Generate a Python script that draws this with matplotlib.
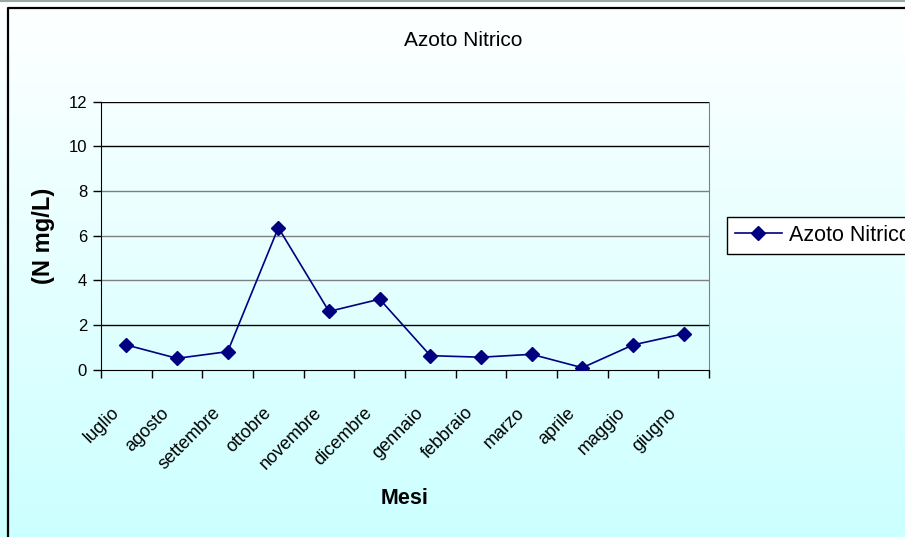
import numpy as np
import matplotlib.pyplot as plt
import matplotlib.transforms as mtransforms
from matplotlib.colors import LinearSegmentedColormap
from matplotlib.ticker import FixedLocator, NullFormatter

plt.rcParams['font.family'] = ['Liberation Sans', 'DejaVu Sans']

mesi = ['luglio', 'agosto', 'settembre', 'ottobre', 'novembre', 'dicembre',
        'gennaio', 'febbraio', 'marzo', 'aprile', 'maggio', 'giugno']
azoto_nitrico = [1.1, 0.5, 0.8, 6.35, 2.6, 3.15, 0.62, 0.55, 0.68, 0.08, 1.1, 1.6]
y_ticks = [0, 2, 4, 6, 8, 10, 12]

W, H = 905, 537
fig = plt.figure(figsize=(W / 100, H / 100), dpi=100)

# sfondo sfumato bianco -> azzurro
bg = fig.add_axes([0, 0, 1, 1], zorder=0)
cmap = LinearSegmentedColormap.from_list('sfondo', ['#ffffff', '#ccffff'])
grad = np.linspace(0, 1, 256).reshape(-1, 1)
bg.imshow(grad, aspect='auto', cmap=cmap, extent=[0, 1, 0, 1], origin='upper')
bg.set_xlim(0, 1)
bg.set_ylim(0, 1)
bg.axis('off')
# cornice del grafico
bg.plot([0, 1], [1 - 0.5 / H, 1 - 0.5 / H], color='#9aa8a8', lw=1.5)
bg.plot([7.5 / W, 7.5 / W, 1], [0, 1 - 8 / H, 1 - 8 / H], color='black', lw=1.6)

ax = fig.add_axes([101 / W, 1 - 369.5 / H, 608 / W, 268 / H], zorder=1)
ax.patch.set_alpha(0)

x = np.arange(len(mesi))
ax.plot(x, azoto_nitrico, color='#000080', lw=1.2, marker='D', markersize=7,
        markerfacecolor='#000080', markeredgecolor='#000080', label='Azoto Nitrico',
        zorder=3)

ax.set_xlim(-0.5, len(mesi) - 0.5)
ax.set_ylim(0, 12)
ax.set_yticks(y_ticks)
for v in y_ticks[1:]:
    c = 'black' if v in (2, 10, 12) else '#808080'
    ax.axhline(v, color=c, lw=1.0, zorder=1)

ax.set_xticks(x)
ax.set_xticklabels(mesi, rotation=45, ha='right', rotation_mode='anchor', fontsize=13)
ax.tick_params(axis='x', which='major', length=0, pad=25)
shift = mtransforms.ScaledTranslation(-16 / 100, 0, fig.dpi_scale_trans)
for lab in ax.get_xticklabels():
    lab.set_transform(lab.get_transform() + shift)
ax.xaxis.set_minor_locator(FixedLocator(np.arange(len(mesi) + 1) - 0.5))
ax.xaxis.set_minor_formatter(NullFormatter())
ax.tick_params(axis='x', which='minor', length=6, width=1, direction='out')
ax.tick_params(axis='y', length=6, width=1, direction='out', labelsize=12, pad=4)

ax.spines['left'].set_color('black')
ax.spines['bottom'].set_color('black')
ax.spines['top'].set_visible(False)
ax.spines['right'].set_color('#808080')

ax.set_ylabel('(N mg/L)', fontsize=17, fontweight='bold', labelpad=10)
ax.set_xlabel('Mesi', fontsize=15.5, fontweight='bold', labelpad=11)

fig.text(463 / W, 1 - 40 / H, 'Azoto Nitrico', ha='center', va='center', fontsize=15)

leg = ax.legend(loc='center left', bbox_to_anchor=(727 / W, 1 - 235.5 / H),
                bbox_transform=fig.transFigure, fontsize=15.5, frameon=True,
                fancybox=False, edgecolor='black', framealpha=1, facecolor='white',
                borderaxespad=0, handlelength=2.2, handletextpad=0.35, borderpad=0.35)
leg.get_frame().set_linewidth(1.0)

fig.savefig('out.png', dpi=100)
